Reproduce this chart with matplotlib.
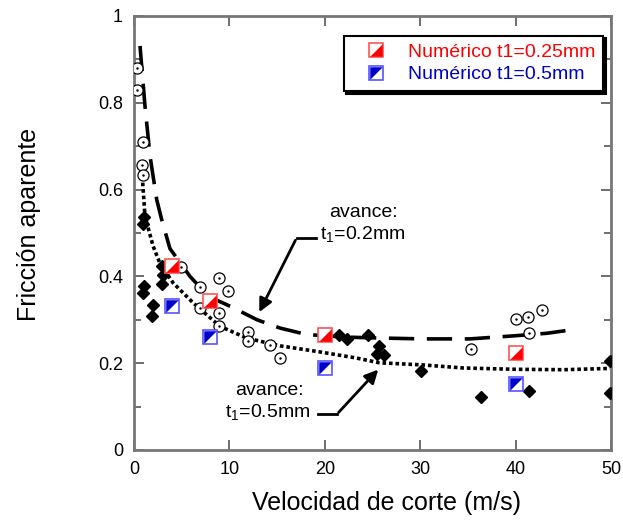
import numpy as np
import matplotlib
matplotlib.use('Agg')
import matplotlib.pyplot as plt

plt.rcParams['font.family'] = ['Liberation Sans', 'DejaVu Sans']

# Experimental data: open circles (with centre dot)
circ_x = [0.35, 0.35, 0.97, 0.87, 0.91, 4.93, 6.92, 8.94, 9.88, 6.92, 8.88, 8.94,
          11.9, 11.9, 14.3, 15.3, 35.3, 40.0, 41.3, 42.8, 41.4]
circ_y = [0.881, 0.829, 0.710, 0.657, 0.633, 0.422, 0.375, 0.397, 0.367, 0.327, 0.316, 0.286,
          0.271, 0.252, 0.241, 0.213, 0.233, 0.302, 0.307, 0.322, 0.270]

# Experimental data: filled diamonds
diam_x = [1.05, 0.97, 2.9, 3.07, 2.97, 1.05, 0.91, 1.96, 1.89, 21.5, 22.3, 24.5,
          25.7, 25.5, 26.2, 30.1, 36.4, 41.4, 49.9, 49.9]
diam_y = [0.536, 0.521, 0.425, 0.404, 0.383, 0.377, 0.362, 0.335, 0.308, 0.264, 0.256, 0.264,
          0.239, 0.222, 0.218, 0.182, 0.121, 0.137, 0.206, 0.132]

# Numerical results
num25_x = [4.0, 8.0, 20.0, 40.0]
num25_y = [0.423, 0.344, 0.266, 0.223]
num05_x = [4.0, 8.0, 20.0, 40.0]
num05_y = [0.331, 0.260, 0.190, 0.152]

# Fitted curves
fit02_x = [0.63, 1.15, 1.68, 2.38, 2.9, 3.77, 5.87, 7.8, 10.1, 12.9, 15.3, 18.1, 22.3,
           25.8, 30.3, 35.2, 39.8, 43.3, 45.9]
fit02_y = [0.931, 0.793, 0.677, 0.577, 0.531, 0.464, 0.400, 0.354, 0.331, 0.300, 0.281, 0.266, 0.260,
           0.258, 0.256, 0.256, 0.263, 0.269, 0.277]
fit05_x = [0.91, 1.15, 2.0, 2.7, 4.1, 6.2, 9.0, 11.8, 15.3, 19.2, 23.3, 25.7,
           30.3, 34.5, 39.8, 45.0, 49.9]
fit05_y = [0.616, 0.539, 0.470, 0.431, 0.385, 0.339, 0.285, 0.258, 0.240, 0.227, 0.212, 0.201,
           0.196, 0.189, 0.186, 0.185, 0.188]

x_ticks = [0, 10, 20, 30, 40, 50]
y_ticks = [0, 0.2, 0.4, 0.6, 0.8, 1]
y_labels = ['0', '0.2', '0.4', '0.6', '0.8', '1']

# half-filled square markers (diagonal split)
tri_lr = [(-1, -1), (1, -1), (1, 1), (-1, -1)]
tri_ul = [(-1, -1), (-1, 1), (1, 1), (-1, -1)]

fig = plt.figure(figsize=(6.23, 5.29), dpi=100)
ax = fig.add_axes([134 / 623, 1 - 450 / 529, 477 / 623, 434 / 529])

ax.plot(fit02_x, fit02_y, color='black', lw=2.6, dashes=(7, 3.5))
ax.plot(fit05_x, fit05_y, color='black', lw=2.6, linestyle=(0, (1, 0.8)))

ax.plot(circ_x, circ_y, 'o', ms=8, mfc='white', mec='black', mew=0.9, zorder=3)
ax.plot(circ_x, circ_y, '.', ms=1.5, color='black', zorder=4)
ax.plot(diam_x, diam_y, 'D', ms=6, color='black', zorder=3)

sq_kw = dict(marker='s', ms=10, mfc='white', mew=1.2, linestyle='none', zorder=5)
tri_kw = dict(ms=9, mew=0, linestyle='none', zorder=6)
r_sq, = ax.plot(num25_x, num25_y, mec='#ff5555', **sq_kw)
r_tri, = ax.plot(num25_x, num25_y, marker=tri_lr, mfc='red', **tri_kw)
b_sq, = ax.plot(num05_x, num05_y, mec='#5555ff', **sq_kw)
b_tri, = ax.plot(num05_x, num05_y, marker=tri_ul, mfc='#0000cc', **tri_kw)

# annotations
ax.annotate('', xy=(13.0, 0.312), xytext=(17.05, 0.489),
            arrowprops=dict(arrowstyle='-|>', color='black', lw=2, mutation_scale=20))
ax.plot([17.05, 19.1], [0.489, 0.489], color='black', lw=2)
ax.text(24.0, 0.548, 'avance:', ha='center', va='center', fontsize=14)
ax.text(24.0, 0.495, r't$_{\mathregular{1}}$=0.2mm', ha='center', va='center', fontsize=14)

ax.annotate('', xy=(25.8, 0.19), xytext=(21.25, 0.082),
            arrowprops=dict(arrowstyle='-|>', color='black', lw=2, mutation_scale=20))
ax.plot([19.3, 21.25], [0.082, 0.082], color='black', lw=2)
ax.text(14.2, 0.138, 'avance:', ha='center', va='center', fontsize=14)
ax.text(14.0, 0.085, r't$_{\mathregular{1}}$=0.5mm', ha='center', va='center', fontsize=14)

ax.set_xlim(0, 50)
ax.set_ylim(0, 1)
ax.set_xticks(x_ticks)
ax.set_xticklabels([str(t) for t in x_ticks])
ax.set_yticks(y_ticks)
ax.set_yticklabels(y_labels)
ax.set_yticks(np.arange(0.1, 1.0, 0.2), minor=True)
ax.tick_params(which='both', direction='in', top=True, right=True, labelsize=13,
               color='#555555', width=1.2, pad=8)
ax.tick_params(which='major', length=7)
ax.tick_params(which='minor', length=5)
for s in ax.spines.values():
    s.set_color('#777777')
    s.set_linewidth(2)

ax.set_xlabel('Velocidad de corte (m/s)', fontsize=18)
ax.xaxis.set_label_coords(0.53, -0.095)
ax.set_ylabel('Fricción aparente', fontsize=18)
ax.yaxis.set_label_coords(-0.195, 0.52)

leg = ax.legend([(r_sq, r_tri), (b_sq, b_tri)],
                ['Numérico t1=0.25mm', 'Numérico t1=0.5mm'],
                loc='upper right', bbox_to_anchor=(0.983, 0.955), fontsize=14,
                fancybox=False, frameon=True, handlelength=2.5, handletextpad=0.4,
                borderpad=0.4, labelspacing=0.25, borderaxespad=0,
                shadow={'color': 'black', 'alpha': 1})
leg.get_frame().set_edgecolor('black')
leg.get_frame().set_linewidth(1.5)
leg.get_texts()[0].set_color('red')
leg.get_texts()[1].set_color('#0000cc')

fig.savefig('out.png', dpi=100)
